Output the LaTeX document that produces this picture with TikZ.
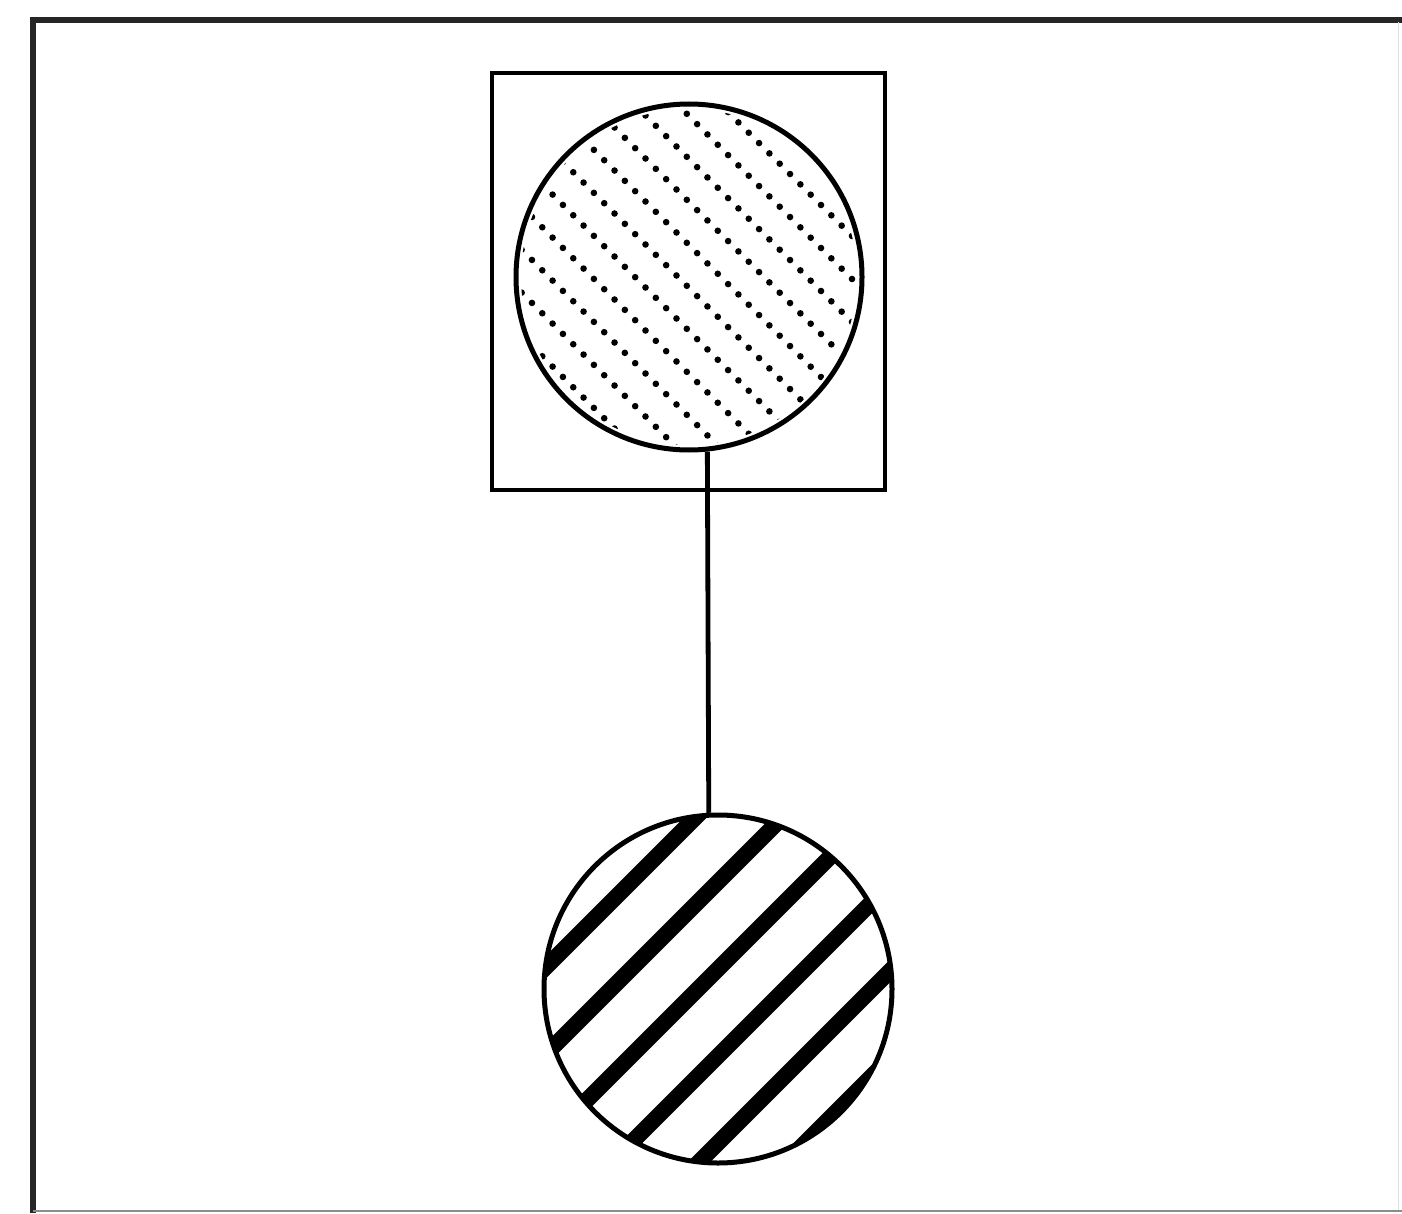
\documentclass[tikz,border=0pt]{standalone}
\begin{document}
\begin{tikzpicture}[x=0.5pt,y=-0.5pt,
  frameline/.style={line width=3pt, black!85, line cap=rect},
  boxnode/.style={draw, line width=2.2pt, rectangle, minimum width=196.5pt, minimum height=208.5pt, inner sep=0pt},
  ball/.style={draw, line width=2.5pt, circle, inner sep=0pt},
  dotline/.style={line width=3.3pt, line cap=round, dash pattern=on 0pt off 7.3pt},
  thickhatch/.style={line width=8pt},
  link/.style={line width=2.4pt}
]
\useasboundingbox (0,0) rectangle (1402,1214);
\fill[white] (0,0) rectangle (1402,1214);
% outer frame
\draw[frameline] (33,1210) -- (33,20) -- (1402,20);
\draw[line width=1pt, black!45] (33,1211) -- (1402,1211);
\draw[line width=0.5pt, black!12] (1398,22) -- (1398,1210);
% box
\node[boxnode] (box) at (688.5,281.5) {};
% hatching (clipped to circles)
\begin{scope}
  \clip (689,277) circle[radius=84pt];
  \foreach \m in {-6,...,6} {
    \draw[dotline] (470,{69+43*\m}) -- (910,{509+43*\m});
  }
\end{scope}
\begin{scope}
  \clip (718,989) circle[radius=86pt];
  \foreach \m in {0,...,5} {
    \draw[thickhatch] (500,{1013+87*\m}) -- (950,{563+87*\m});
  }
\end{scope}
% balls
\node[ball, minimum size=173pt] (top) at (689,277) {};
\node[ball, minimum size=174pt] (bot) at (718,989) {};
% connector
\draw[link] (top.-84) -- (bot.93.6);
\end{tikzpicture}
\end{document}
